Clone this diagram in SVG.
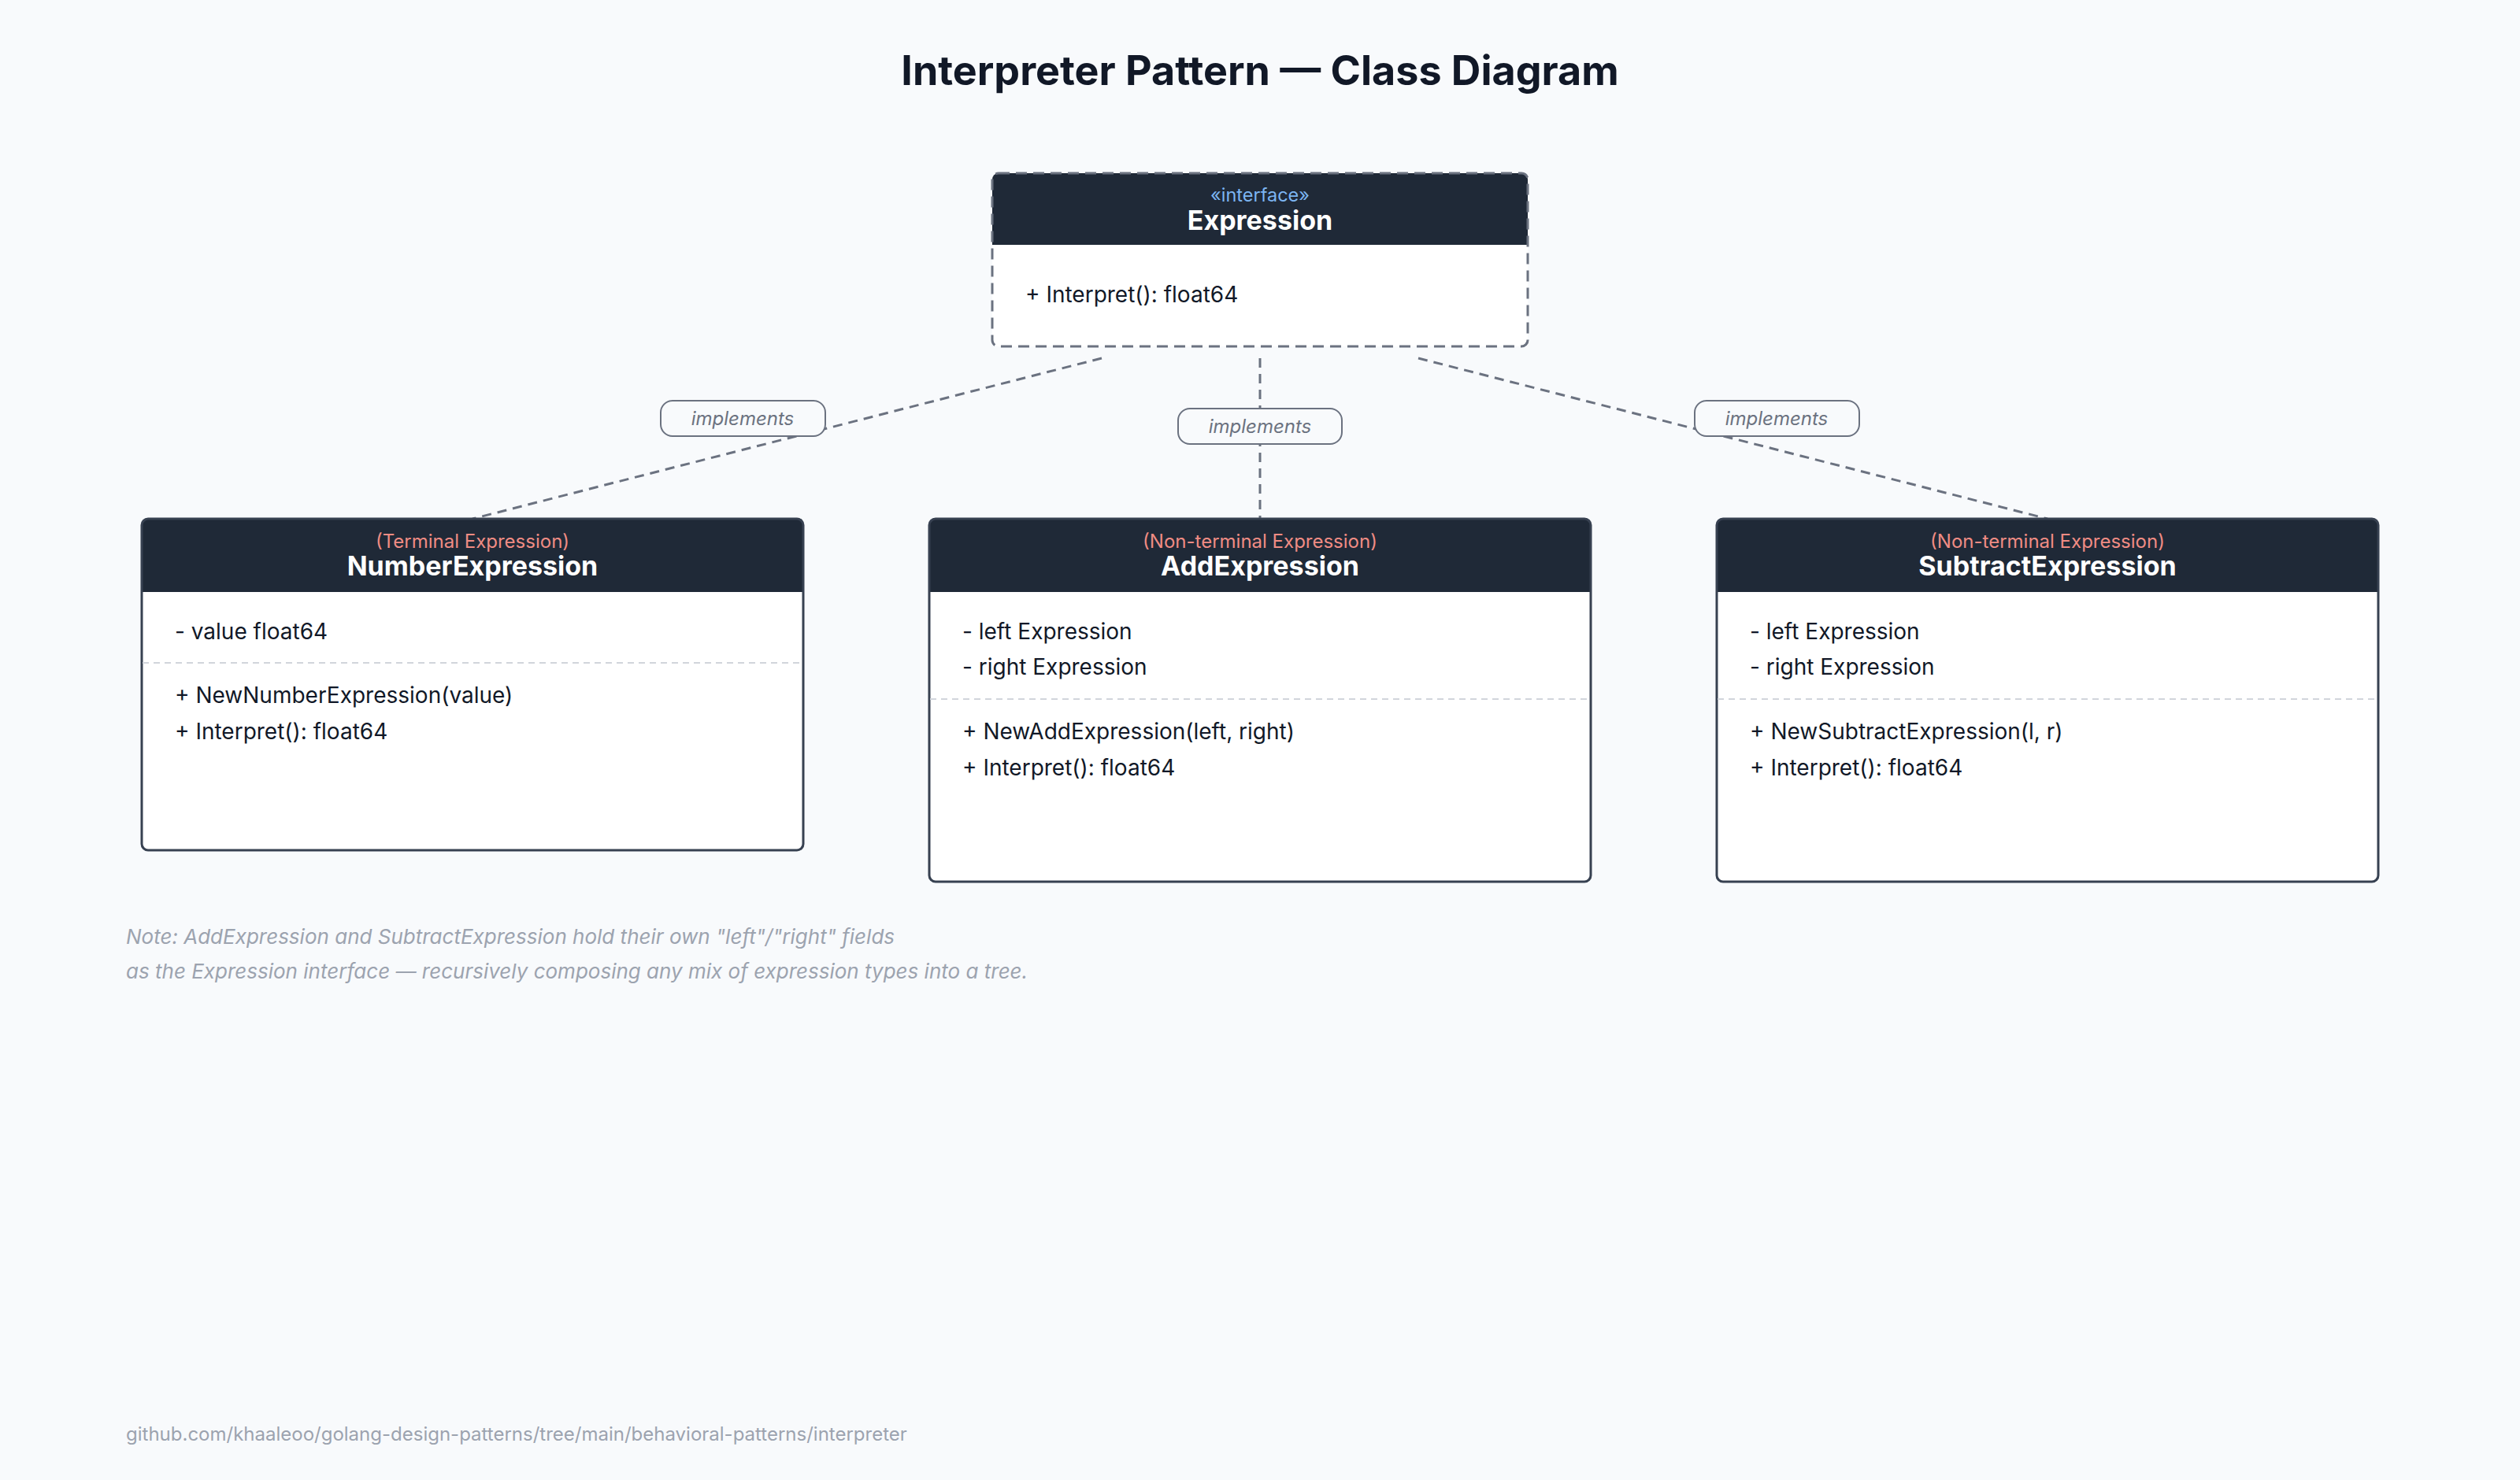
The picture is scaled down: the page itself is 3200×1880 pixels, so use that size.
<svg xmlns="http://www.w3.org/2000/svg" width="3200" height="1880" viewBox="0 0 3200 1880">
<style>
.title{font-family:Inter,"Liberation Sans",sans-serif;font-weight:700;font-size:52px;fill:#111827;text-anchor:middle}
.hdr{fill:#1f2937}
.body{fill:#ffffff}
.border{fill:none;stroke:#374151;stroke-width:3}
.iborder{fill:none;stroke:#6b7280;stroke-width:3;stroke-dasharray:14 8}
.stereo{font-family:Inter,"Liberation Sans",sans-serif;font-size:23.5px;fill:#7cb5f2;text-anchor:middle}
.sub{font-family:Inter,"Liberation Sans",sans-serif;font-size:24px;fill:#f08c84;text-anchor:middle}
.name{font-family:Inter,"Liberation Sans",sans-serif;font-weight:700;font-size:34px;fill:#ffffff;text-anchor:middle}
.mem{font-family:Inter,"Liberation Sans",sans-serif;font-size:28px;fill:#111827}
.sep{stroke:#d1d5db;stroke-width:2;stroke-dasharray:8 6}
.conn{fill:none;stroke:#6b7280;stroke-width:3;stroke-dasharray:12 8}
.pill{fill:#f8fafc;stroke:#6b7280;stroke-width:2}
.pilltxt{font-family:Inter,"Liberation Sans",sans-serif;font-style:italic;font-size:24px;fill:#6b7280;text-anchor:middle}
.note{font-family:Inter,"Liberation Sans",sans-serif;font-style:italic;font-size:26px;fill:#9ca3af}
.foot{font-family:Inter,"Liberation Sans",sans-serif;font-size:24px;fill:#9ca3af}
</style>
<rect x="0" y="0" width="3200" height="1880" fill="#f8fafc"/>
<text class="title" x="1600" y="108">Interpreter Pattern — Class Diagram</text>

<g id="connectors">
<line class="conn" x1="1399" y1="455" x2="600" y2="659"/>
<line class="conn" x1="1600" y1="455" x2="1600" y2="659"/>
<line class="conn" x1="1801" y1="455" x2="2600" y2="659"/>
<rect class="pill" x="839" y="509" width="209" height="45" rx="15"/>
<text class="pilltxt" x="943" y="540">implements</text>
<rect class="pill" x="1496" y="519" width="208" height="45" rx="15"/>
<text class="pilltxt" x="1600" y="550">implements</text>
<rect class="pill" x="2152" y="509" width="209" height="45" rx="15"/>
<text class="pilltxt" x="2256" y="540">implements</text>
</g>

<g id="Expression">
<rect class="body" x="1260" y="220" width="680" height="220" rx="8"/>
<path class="hdr" d="M1260 311 V228 a8 8 0 0 1 8 -8 H1932 a8 8 0 0 1 8 8 V311 Z"/>
<rect class="iborder" x="1260" y="220" width="680" height="220" rx="8"/>
<text class="stereo" x="1600" y="256">«interface»</text>
<text class="name" x="1600" y="292">Expression</text>
<text class="mem" x="1302" y="384">+ Interpret(): float64</text>
</g>

<g id="NumberExpression">
<rect class="body" x="180" y="659" width="840" height="421" rx="8"/>
<path class="hdr" d="M180 752 V667 a8 8 0 0 1 8 -8 H1012 a8 8 0 0 1 8 8 V752 Z"/>
<rect class="border" x="180" y="659" width="840" height="421" rx="8"/>
<text class="sub" x="600" y="696">(Terminal Expression)</text>
<text class="name" x="600" y="731">NumberExpression</text>
<text class="mem" x="222" y="812">- value float64</text>
<line class="sep" x1="181" y1="842" x2="1019" y2="842"/>
<text class="mem" x="222" y="893">+ NewNumberExpression(value)</text>
<text class="mem" x="222" y="939">+ Interpret(): float64</text>
</g>

<g id="AddExpression">
<rect class="body" x="1180" y="659" width="840" height="461" rx="8"/>
<path class="hdr" d="M1180 752 V667 a8 8 0 0 1 8 -8 H2012 a8 8 0 0 1 8 8 V752 Z"/>
<rect class="border" x="1180" y="659" width="840" height="461" rx="8"/>
<text class="sub" x="1600" y="696">(Non-terminal Expression)</text>
<text class="name" x="1600" y="731">AddExpression</text>
<text class="mem" x="1222" y="812">- left Expression</text>
<text class="mem" x="1222" y="857">- right Expression</text>
<line class="sep" x1="1181" y1="888" x2="2019" y2="888"/>
<text class="mem" x="1222" y="939">+ NewAddExpression(left, right)</text>
<text class="mem" x="1222" y="985">+ Interpret(): float64</text>
</g>

<g id="SubtractExpression">
<rect class="body" x="2180" y="659" width="840" height="461" rx="8"/>
<path class="hdr" d="M2180 752 V667 a8 8 0 0 1 8 -8 H3012 a8 8 0 0 1 8 8 V752 Z"/>
<rect class="border" x="2180" y="659" width="840" height="461" rx="8"/>
<text class="sub" x="2600" y="696">(Non-terminal Expression)</text>
<text class="name" x="2600" y="731">SubtractExpression</text>
<text class="mem" x="2222" y="812">- left Expression</text>
<text class="mem" x="2222" y="857">- right Expression</text>
<line class="sep" x1="2181" y1="888" x2="3019" y2="888"/>
<text class="mem" x="2222" y="939">+ NewSubtractExpression(l, r)</text>
<text class="mem" x="2222" y="985">+ Interpret(): float64</text>
</g>

<text class="note" x="160" y="1199">Note: AddExpression and SubtractExpression hold their own "left"/"right" fields</text>
<text class="note" x="160" y="1243">as the Expression interface — recursively composing any mix of expression types into a tree.</text>
<text class="foot" x="160" y="1830">github.com/khaaleoo/golang-design-patterns/tree/main/behavioral-patterns/interpreter</text>
</svg>
